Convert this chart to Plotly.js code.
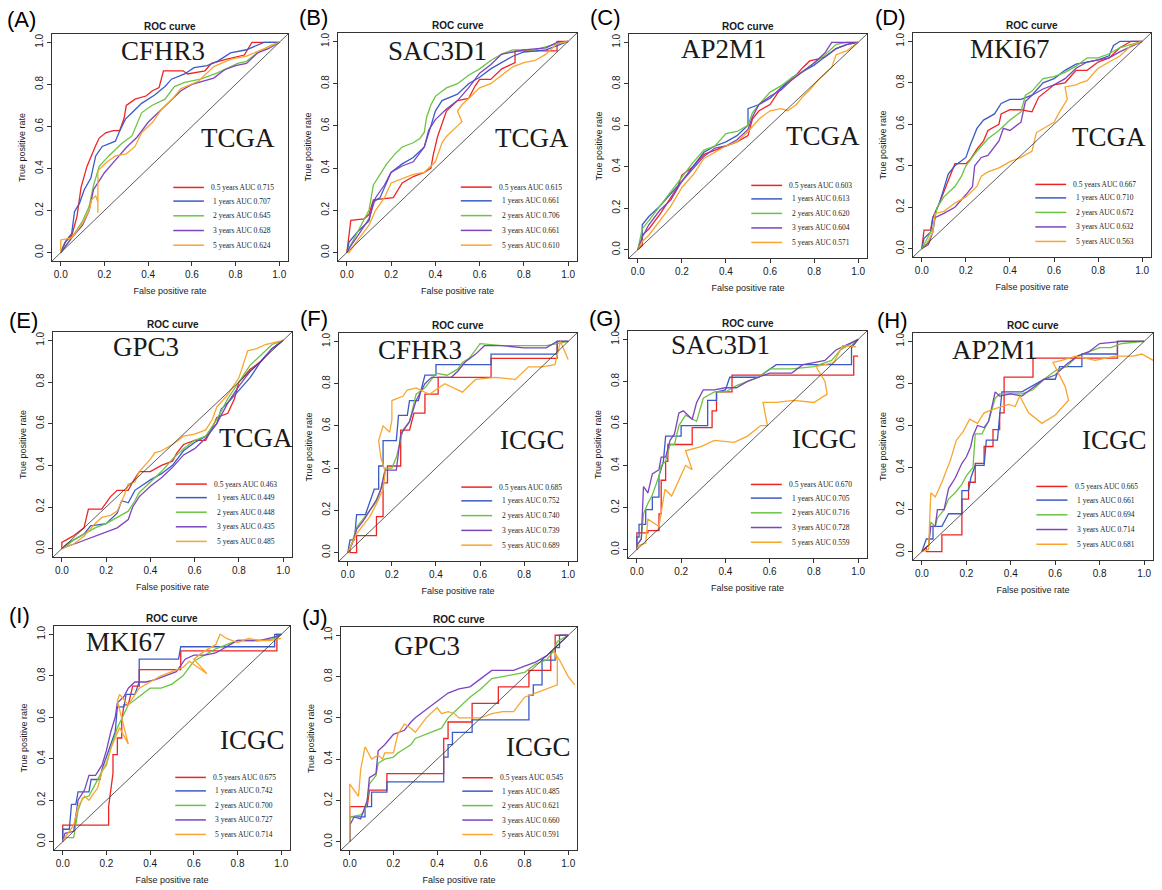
<!DOCTYPE html>
<html>
<head>
<meta charset="utf-8">
<script src="https://cdn.plot.ly/plotly-3.0.1.min.js"></script>
<style>html,body{margin:0;padding:0;background:#fff;}#chart{width:1162px;height:890px;}</style>
</head>
<body>
<div id="chart"></div>
<script>
// ---------- labels ----------
const panelTags = ["(A)","(B)","(C)","(D)","(E)","(F)","(G)","(H)","(I)","(J)"];
const genes = ["CFHR3","SAC3D1","AP2M1","MKI67","GPC3","CFHR3","SAC3D1","AP2M1","MKI67","GPC3"];
const cohorts = ["TCGA","TCGA","TCGA","TCGA","TCGA","ICGC","ICGC","ICGC","ICGC","ICGC"];
const years = ["0.5 years","1 years","2 years","3 years","5 years"];
const tickVals = [0,0.2,0.4,0.6,0.8,1.0];
const tickText = ["0.0","0.2","0.4","0.6","0.8","1.0"];

// ---------- AUC values ----------
const aucA = [0.715,0.707,0.645,0.628,0.624];
const aucB = [0.615,0.661,0.706,0.661,0.610];
const aucC = [0.603,0.613,0.620,0.604,0.571];
const aucD = [0.667,0.710,0.672,0.632,0.563];
const aucE = [0.463,0.449,0.448,0.435,0.485];
const aucF = [0.685,0.752,0.740,0.739,0.689];
const aucG = [0.670,0.705,0.716,0.728,0.559];
const aucH = [0.665,0.661,0.694,0.714,0.681];
const aucI = [0.675,0.742,0.700,0.727,0.714];
const aucJ = [0.545,0.485,0.621,0.660,0.591];

// ---------- ROC curves: [FPR, TPR] points ----------
// (A) CFHR3 TCGA
const A_05 = [[0,0],[0.02,0.05],[0.05,0.08],[0.074,0.17],[0.093,0.31],[0.12,0.41],[0.16,0.51],[0.176,0.545],[0.206,0.57],[0.24,0.58],[0.27,0.58],[0.29,0.64],[0.30,0.70],[0.34,0.73],[0.39,0.745],[0.42,0.77],[0.45,0.785],[0.47,0.865],[0.56,0.865],[0.58,0.85],[0.66,0.865],[0.69,0.90],[0.76,0.92],[0.84,0.94],[0.875,1.0],[1,1]];
const A_1 = [[0,0],[0.026,0.06],[0.05,0.09],[0.063,0.195],[0.086,0.235],[0.108,0.30],[0.138,0.355],[0.16,0.46],[0.19,0.505],[0.25,0.53],[0.27,0.58],[0.296,0.635],[0.326,0.665],[0.37,0.71],[0.43,0.75],[0.477,0.79],[0.507,0.825],[0.567,0.85],[0.61,0.88],[0.67,0.89],[0.717,0.91],[0.777,0.95],[0.85,0.965],[0.93,1.0],[1,1]];
const A_2 = [[0,0],[0.05,0.07],[0.10,0.15],[0.13,0.22],[0.15,0.32],[0.176,0.41],[0.22,0.46],[0.28,0.52],[0.326,0.555],[0.37,0.665],[0.417,0.70],[0.477,0.73],[0.52,0.79],[0.567,0.81],[0.64,0.825],[0.717,0.855],[0.81,0.90],[0.85,0.91],[0.90,0.95],[0.96,0.985],[1,1]];
const A_3 = [[0,0],[0.05,0.07],[0.10,0.13],[0.13,0.20],[0.15,0.30],[0.20,0.38],[0.25,0.44],[0.30,0.50],[0.35,0.55],[0.40,0.62],[0.45,0.67],[0.50,0.72],[0.55,0.77],[0.60,0.80],[0.70,0.83],[0.75,0.87],[0.80,0.89],[0.85,0.90],[0.90,0.95],[0.95,0.97],[1,1]];
const A_5 = [[0,0],[0,0.06],[0.05,0.07],[0.10,0.14],[0.13,0.20],[0.14,0.25],[0.16,0.27],[0.17,0.24],[0.17,0.19],[0.17,0.39],[0.21,0.43],[0.25,0.46],[0.30,0.47],[0.34,0.505],[0.37,0.57],[0.42,0.62],[0.46,0.68],[0.51,0.73],[0.55,0.78],[0.63,0.815],[0.70,0.885],[0.78,0.92],[0.85,0.935],[0.93,0.97],[1,1]];
// (B) SAC3D1 TCGA
const B_05 = [[0,0],[0.01,0.10],[0.018,0.153],[0.078,0.16],[0.10,0.18],[0.12,0.25],[0.175,0.255],[0.21,0.26],[0.25,0.33],[0.30,0.36],[0.35,0.38],[0.38,0.40],[0.39,0.46],[0.41,0.55],[0.45,0.67],[0.50,0.72],[0.55,0.73],[0.58,0.79],[0.60,0.82],[0.65,0.82],[0.70,0.87],[0.76,0.90],[0.76,0.955],[0.95,0.955],[0.95,1.0],[1,1]];
const B_1 = [[0,0],[0.01,0.05],[0.05,0.10],[0.10,0.15],[0.12,0.24],[0.15,0.26],[0.20,0.38],[0.25,0.42],[0.30,0.45],[0.35,0.50],[0.38,0.60],[0.40,0.67],[0.43,0.72],[0.50,0.75],[0.55,0.80],[0.60,0.83],[0.65,0.87],[0.70,0.90],[0.75,0.93],[0.80,0.95],[0.90,0.96],[0.95,0.98],[1,1]];
const B_2 = [[0,0],[0.01,0.02],[0.05,0.10],[0.10,0.20],[0.12,0.32],[0.15,0.37],[0.18,0.42],[0.22,0.47],[0.25,0.50],[0.30,0.52],[0.33,0.54],[0.35,0.57],[0.36,0.64],[0.38,0.70],[0.40,0.74],[0.45,0.78],[0.50,0.80],[0.55,0.84],[0.60,0.87],[0.65,0.91],[0.70,0.94],[0.75,0.96],[0.85,0.96],[0.95,0.99],[1,1]];
const B_3 = [[0,0],[0.01,0.02],[0.05,0.08],[0.10,0.16],[0.13,0.26],[0.17,0.32],[0.20,0.38],[0.25,0.41],[0.30,0.43],[0.35,0.50],[0.37,0.58],[0.40,0.63],[0.45,0.68],[0.50,0.72],[0.55,0.78],[0.60,0.85],[0.65,0.89],[0.70,0.94],[0.75,0.95],[0.80,0.96],[0.90,0.97],[0.95,0.995],[1,1]];
const B_5 = [[0,0],[0.01,0],[0.05,0.06],[0.10,0.13],[0.13,0.20],[0.17,0.26],[0.20,0.33],[0.25,0.35],[0.30,0.37],[0.35,0.38],[0.40,0.43],[0.43,0.52],[0.45,0.55],[0.50,0.60],[0.52,0.62],[0.50,0.67],[0.52,0.70],[0.55,0.73],[0.60,0.78],[0.65,0.80],[0.70,0.84],[0.75,0.88],[0.80,0.90],[0.85,0.91],[0.90,0.94],[0.95,0.99],[1,1]];
// (C) AP2M1 TCGA
const C_05 = [[0,0],[0.02,0.02],[0.02,0.07],[0.05,0.10],[0.10,0.17],[0.15,0.25],[0.18,0.30],[0.20,0.36],[0.25,0.40],[0.30,0.46],[0.35,0.48],[0.40,0.50],[0.45,0.52],[0.50,0.55],[0.52,0.63],[0.55,0.67],[0.60,0.70],[0.65,0.78],[0.70,0.82],[0.75,0.88],[0.78,0.91],[0.82,0.92],[0.85,0.93],[0.90,0.97],[0.95,0.99],[1,1]];
const C_1 = [[0,0],[0.02,0.05],[0.02,0.12],[0.05,0.16],[0.10,0.21],[0.15,0.27],[0.20,0.33],[0.25,0.40],[0.30,0.47],[0.35,0.50],[0.40,0.52],[0.45,0.55],[0.50,0.60],[0.50,0.68],[0.55,0.70],[0.60,0.73],[0.65,0.78],[0.70,0.83],[0.75,0.86],[0.80,0.89],[0.85,0.93],[0.90,0.97],[0.95,0.99],[1,1]];
const C_2 = [[0,0],[0.02,0.10],[0.05,0.14],[0.10,0.21],[0.15,0.28],[0.20,0.35],[0.25,0.42],[0.30,0.48],[0.35,0.50],[0.40,0.56],[0.45,0.57],[0.50,0.60],[0.52,0.66],[0.55,0.70],[0.60,0.76],[0.65,0.79],[0.70,0.83],[0.75,0.86],[0.80,0.90],[0.85,0.94],[0.90,0.99],[0.95,1.0],[1,1]];
const C_3 = [[0,0],[0.02,0.06],[0.05,0.12],[0.10,0.19],[0.15,0.24],[0.20,0.33],[0.25,0.39],[0.30,0.45],[0.35,0.49],[0.40,0.50],[0.45,0.53],[0.50,0.58],[0.52,0.64],[0.55,0.70],[0.60,0.74],[0.65,0.77],[0.70,0.82],[0.75,0.86],[0.80,0.90],[0.85,0.95],[0.88,1.0],[0.95,1.0],[1,1]];
const C_5 = [[0,0],[0.02,0.04],[0.05,0.07],[0.10,0.14],[0.15,0.21],[0.20,0.30],[0.25,0.36],[0.30,0.44],[0.35,0.47],[0.40,0.50],[0.45,0.52],[0.50,0.57],[0.55,0.63],[0.60,0.67],[0.65,0.68],[0.68,0.67],[0.72,0.70],[0.75,0.74],[0.78,0.77],[0.82,0.82],[0.85,0.85],[0.88,0.88],[0.90,0.94],[0.95,0.96],[1,1]];
// (D) MKI67 TCGA
const D_05 = [[0,0],[0.01,0.09],[0.04,0.09],[0.05,0.15],[0.08,0.22],[0.11,0.30],[0.13,0.35],[0.15,0.41],[0.20,0.41],[0.22,0.43],[0.25,0.48],[0.28,0.52],[0.30,0.57],[0.35,0.60],[0.36,0.65],[0.40,0.67],[0.45,0.67],[0.50,0.66],[0.53,0.73],[0.60,0.79],[0.65,0.80],[0.70,0.86],[0.75,0.86],[0.80,0.90],[0.85,0.92],[0.90,0.97],[0.95,1.0],[1,1]];
const D_1 = [[0,0],[0.01,0.05],[0.04,0.08],[0.05,0.15],[0.08,0.22],[0.10,0.29],[0.12,0.36],[0.15,0.40],[0.20,0.44],[0.22,0.50],[0.25,0.58],[0.28,0.62],[0.33,0.65],[0.36,0.70],[0.40,0.72],[0.45,0.72],[0.50,0.74],[0.55,0.80],[0.60,0.82],[0.65,0.86],[0.70,0.89],[0.75,0.90],[0.80,0.91],[0.85,0.93],[0.87,0.98],[0.90,1.0],[1,1]];
const D_2 = [[0,0],[0.02,0.04],[0.05,0.10],[0.07,0.20],[0.10,0.25],[0.15,0.30],[0.18,0.35],[0.20,0.40],[0.25,0.47],[0.30,0.53],[0.35,0.57],[0.40,0.62],[0.45,0.66],[0.47,0.74],[0.50,0.76],[0.55,0.82],[0.60,0.83],[0.65,0.85],[0.70,0.88],[0.75,0.92],[0.80,0.92],[0.85,0.94],[0.90,0.97],[1,1]];
const D_3 = [[0,0],[0.03,0.02],[0.05,0.08],[0.06,0.15],[0.10,0.17],[0.15,0.20],[0.20,0.26],[0.23,0.30],[0.24,0.40],[0.27,0.44],[0.30,0.45],[0.35,0.52],[0.37,0.58],[0.40,0.57],[0.45,0.61],[0.47,0.71],[0.50,0.74],[0.55,0.77],[0.60,0.79],[0.65,0.82],[0.70,0.87],[0.75,0.90],[0.80,0.91],[0.85,0.92],[0.90,0.95],[1,1]];
const D_5 = [[0,0],[0.02,0.02],[0.05,0.08],[0.06,0.17],[0.10,0.18],[0.15,0.22],[0.20,0.25],[0.25,0.30],[0.27,0.35],[0.30,0.37],[0.35,0.39],[0.40,0.42],[0.45,0.44],[0.50,0.47],[0.52,0.56],[0.55,0.58],[0.60,0.61],[0.62,0.65],[0.66,0.72],[0.65,0.78],[0.70,0.79],[0.72,0.80],[0.75,0.81],[0.80,0.87],[0.85,0.90],[0.90,0.93],[0.95,0.98],[1,1]];
// (E) GPC3 TCGA
const E_05 = [[0,0],[0,0.03],[0.05,0.06],[0.10,0.10],[0.12,0.19],[0.18,0.19],[0.20,0.22],[0.22,0.25],[0.25,0.28],[0.30,0.28],[0.32,0.32],[0.35,0.37],[0.40,0.37],[0.45,0.40],[0.50,0.42],[0.52,0.46],[0.55,0.50],[0.60,0.52],[0.65,0.52],[0.68,0.58],[0.70,0.63],[0.75,0.65],[0.78,0.72],[0.80,0.80],[0.85,0.86],[0.90,0.90],[0.95,0.96],[1,1]];
const E_1 = [[0,0],[0.02,0.02],[0.05,0.04],[0.10,0.07],[0.13,0.11],[0.20,0.12],[0.25,0.17],[0.27,0.23],[0.30,0.22],[0.33,0.28],[0.40,0.33],[0.45,0.36],[0.50,0.40],[0.55,0.47],[0.60,0.51],[0.65,0.54],[0.70,0.60],[0.72,0.67],[0.75,0.70],[0.80,0.76],[0.85,0.82],[0.90,0.90],[0.95,0.96],[1,1]];
const E_2 = [[0,0],[0.02,0.01],[0.05,0.04],[0.10,0.07],[0.15,0.10],[0.20,0.12],[0.25,0.15],[0.30,0.18],[0.33,0.23],[0.35,0.27],[0.40,0.32],[0.45,0.37],[0.50,0.43],[0.55,0.48],[0.60,0.52],[0.65,0.54],[0.70,0.62],[0.75,0.72],[0.80,0.80],[0.85,0.88],[0.90,0.93],[0.95,0.98],[1,1]];
const E_3 = [[0,0],[0.02,0.01],[0.05,0.02],[0.10,0.04],[0.15,0.06],[0.20,0.08],[0.25,0.10],[0.30,0.14],[0.32,0.20],[0.35,0.25],[0.40,0.30],[0.45,0.34],[0.50,0.39],[0.55,0.45],[0.60,0.48],[0.65,0.53],[0.70,0.60],[0.75,0.70],[0.80,0.78],[0.85,0.85],[0.90,0.90],[0.95,0.96],[1,1]];
const E_5 = [[0,0],[0.02,0.01],[0.05,0.02],[0.10,0.06],[0.15,0.12],[0.18,0.15],[0.22,0.16],[0.25,0.18],[0.28,0.25],[0.30,0.31],[0.33,0.32],[0.35,0.37],[0.40,0.43],[0.42,0.46],[0.45,0.47],[0.50,0.50],[0.55,0.54],[0.60,0.55],[0.65,0.57],[0.68,0.62],[0.70,0.68],[0.75,0.74],[0.80,0.82],[0.82,0.88],[0.84,0.95],[0.88,0.96],[0.92,0.98],[1,1]];
// (F) CFHR3 ICGC
const F_05 = [[0,0],[0.01,0.02],[0.01,0],[0.04,0],[0.04,0.08],[0.13,0.08],[0.13,0.17],[0.16,0.17],[0.16,0.33],[0.18,0.33],[0.18,0.41],[0.24,0.41],[0.24,0.58],[0.28,0.58],[0.30,0.66],[0.35,0.66],[0.35,0.75],[0.41,0.75],[0.41,0.83],[0.65,0.83],[0.65,0.92],[0.95,0.92],[0.95,1.0],[1,1]];
const F_1 = [[0,0],[0.01,0.06],[0.03,0.06],[0.04,0.18],[0.08,0.18],[0.10,0.24],[0.12,0.30],[0.14,0.30],[0.14,0.41],[0.16,0.41],[0.16,0.53],[0.22,0.53],[0.23,0.65],[0.27,0.65],[0.28,0.72],[0.32,0.72],[0.35,0.84],[0.40,0.84],[0.40,0.89],[0.65,0.89],[0.65,0.94],[0.95,0.94],[0.95,1.0],[1,1]];
const F_2 = [[0,0],[0.02,0.05],[0.04,0.12],[0.07,0.16],[0.10,0.20],[0.13,0.24],[0.15,0.30],[0.17,0.40],[0.20,0.40],[0.22,0.45],[0.25,0.58],[0.28,0.62],[0.31,0.75],[0.35,0.78],[0.38,0.82],[0.40,0.85],[0.45,0.84],[0.50,0.87],[0.52,0.90],[0.55,0.92],[0.58,0.96],[0.60,0.99],[0.70,0.98],[0.80,0.98],[0.90,0.98],[0.95,0.99],[1,1]];
const F_3 = [[0,0],[0.02,0.04],[0.04,0.11],[0.07,0.15],[0.10,0.20],[0.13,0.25],[0.15,0.30],[0.17,0.39],[0.22,0.39],[0.24,0.56],[0.28,0.62],[0.31,0.72],[0.35,0.80],[0.38,0.83],[0.42,0.83],[0.47,0.83],[0.50,0.86],[0.53,0.90],[0.58,0.94],[0.62,0.98],[0.70,0.98],[0.80,0.97],[0.90,0.97],[0.95,1.0],[1,1]];
const F_5 = [[0,0],[0.04,0.09],[0.10,0.17],[0.13,0.23],[0.16,0.30],[0.17,0.38],[0.15,0.45],[0.14,0.53],[0.16,0.60],[0.19,0.57],[0.20,0.63],[0.20,0.72],[0.25,0.74],[0.27,0.77],[0.31,0.78],[0.37,0.75],[0.44,0.80],[0.52,0.76],[0.58,0.82],[0.67,0.83],[0.76,0.82],[0.82,0.88],[0.88,0.88],[0.94,0.89],[0.965,1.0],[1.0,0.915]];
// (G) SAC3D1 ICGC
const G_05 = [[0,0],[0,0.08],[0.05,0.08],[0.05,0.09],[0.10,0.09],[0.10,0.17],[0.11,0.17],[0.11,0.33],[0.13,0.33],[0.13,0.42],[0.14,0.42],[0.14,0.50],[0.25,0.50],[0.25,0.58],[0.34,0.58],[0.34,0.66],[0.36,0.66],[0.36,0.75],[0.43,0.75],[0.43,0.83],[0.98,0.83],[0.98,0.92],[1,0.92]];
const G_1 = [[0,0],[0,0.06],[0.01,0.06],[0.01,0.12],[0.04,0.12],[0.04,0.19],[0.07,0.19],[0.07,0.25],[0.10,0.25],[0.10,0.35],[0.12,0.42],[0.13,0.54],[0.20,0.54],[0.20,0.59],[0.32,0.59],[0.32,0.71],[0.36,0.71],[0.36,0.75],[0.40,0.76],[0.42,0.82],[0.55,0.82],[0.63,0.88],[0.97,0.88],[0.97,0.96],[1,1]];
const G_2 = [[0,0],[0,0.02],[0.02,0.05],[0.03,0.17],[0.05,0.22],[0.07,0.26],[0.10,0.35],[0.11,0.40],[0.13,0.42],[0.15,0.50],[0.17,0.50],[0.19,0.59],[0.22,0.64],[0.27,0.61],[0.30,0.72],[0.35,0.75],[0.40,0.75],[0.45,0.78],[0.50,0.80],[0.55,0.82],[0.60,0.86],[0.70,0.86],[0.80,0.87],[0.88,0.90],[0.92,0.95],[1,1]];
const G_3 = [[0,0],[0,0.02],[0.02,0.05],[0.03,0.30],[0.05,0.27],[0.07,0.36],[0.10,0.38],[0.11,0.44],[0.13,0.44],[0.15,0.52],[0.17,0.55],[0.19,0.65],[0.21,0.66],[0.25,0.62],[0.27,0.70],[0.30,0.76],[0.35,0.76],[0.40,0.77],[0.45,0.77],[0.50,0.80],[0.55,0.82],[0.60,0.84],[0.70,0.84],[0.75,0.88],[0.80,0.89],[0.85,0.90],[0.90,0.95],[1,1]];
const G_5 = [[0,0],[0.01,0.02],[0.04,0.03],[0.05,0.145],[0.10,0.11],[0.127,0.287],[0.157,0.255],[0.19,0.33],[0.22,0.40],[0.25,0.38],[0.22,0.47],[0.29,0.49],[0.35,0.52],[0.44,0.51],[0.50,0.54],[0.56,0.59],[0.59,0.59],[0.57,0.70],[0.63,0.70],[0.71,0.71],[0.80,0.70],[0.86,0.74],[0.85,0.80],[0.81,0.87],[0.89,0.89],[0.93,0.97],[0.99,0.965]];
// (H) AP2M1 ICGC
const H_05 = [[0,0],[0.02,0.02],[0.02,0],[0.09,0],[0.09,0.08],[0.18,0.08],[0.18,0.25],[0.21,0.25],[0.21,0.33],[0.24,0.33],[0.24,0.42],[0.28,0.42],[0.28,0.50],[0.32,0.50],[0.32,0.58],[0.35,0.58],[0.35,0.66],[0.37,0.66],[0.37,0.83],[0.50,0.83],[0.50,0.92],[0.88,0.92],[0.88,1.0],[1,1]];
const H_1 = [[0,0],[0.02,0.06],[0.05,0.06],[0.05,0.12],[0.09,0.12],[0.12,0.18],[0.18,0.18],[0.18,0.29],[0.21,0.29],[0.22,0.35],[0.24,0.41],[0.28,0.41],[0.29,0.53],[0.34,0.53],[0.35,0.65],[0.36,0.76],[0.45,0.76],[0.50,0.79],[0.55,0.82],[0.60,0.82],[0.62,0.88],[0.72,0.88],[0.72,0.94],[0.88,0.94],[0.88,1.0],[1,1]];
const H_2 = [[0,0],[0.03,0.03],[0.04,0.14],[0.06,0.12],[0.07,0.16],[0.10,0.20],[0.12,0.25],[0.15,0.28],[0.18,0.32],[0.20,0.36],[0.23,0.40],[0.24,0.56],[0.27,0.56],[0.30,0.62],[0.33,0.73],[0.35,0.75],[0.40,0.75],[0.45,0.75],[0.50,0.77],[0.55,0.82],[0.60,0.86],[0.65,0.88],[0.70,0.93],[0.75,0.95],[0.80,0.97],[0.85,0.97],[0.90,0.99],[1,1]];
const H_3 = [[0,0],[0.03,0.03],[0.04,0.12],[0.06,0.12],[0.07,0.20],[0.10,0.20],[0.12,0.30],[0.15,0.35],[0.18,0.42],[0.20,0.45],[0.22,0.50],[0.23,0.55],[0.25,0.60],[0.28,0.59],[0.30,0.62],[0.33,0.76],[0.35,0.74],[0.40,0.75],[0.45,0.74],[0.50,0.78],[0.55,0.82],[0.60,0.84],[0.65,0.89],[0.70,0.93],[0.75,0.95],[0.80,0.99],[0.90,1.0],[1,1]];
const H_5 = [[0,0],[0.03,0.01],[0.04,0.28],[0.06,0.26],[0.09,0.33],[0.13,0.44],[0.155,0.53],[0.185,0.57],[0.215,0.63],[0.25,0.61],[0.28,0.66],[0.33,0.68],[0.39,0.70],[0.42,0.69],[0.44,0.74],[0.48,0.66],[0.54,0.61],[0.60,0.65],[0.66,0.72],[0.645,0.785],[0.59,0.90],[0.63,0.91],[0.69,0.93],[0.78,0.91],[0.87,0.93],[0.95,0.93],[0.99,0.94],[1.04,0.91]];
// (I) MKI67 ICGC
const I_05 = [[0,0],[0,0.08],[0.21,0.08],[0.21,0.17],[0.22,0.25],[0.23,0.33],[0.23,0.42],[0.25,0.42],[0.25,0.50],[0.27,0.50],[0.27,0.58],[0.28,0.66],[0.30,0.66],[0.32,0.75],[0.35,0.75],[0.35,0.83],[0.54,0.83],[0.54,0.92],[0.98,0.92],[0.98,1.0],[1,1]];
const I_1 = [[0,0],[0,0.06],[0.03,0.06],[0.04,0.18],[0.06,0.18],[0.07,0.24],[0.12,0.24],[0.13,0.30],[0.17,0.30],[0.18,0.35],[0.20,0.41],[0.22,0.47],[0.24,0.53],[0.25,0.65],[0.28,0.65],[0.29,0.71],[0.33,0.71],[0.35,0.77],[0.35,0.88],[0.53,0.88],[0.54,0.94],[0.97,0.94],[0.97,1.0],[1,1]];
const I_2 = [[0,0],[0.01,0.02],[0.05,0.02],[0.06,0.08],[0.07,0.15],[0.09,0.21],[0.12,0.22],[0.15,0.28],[0.18,0.34],[0.20,0.37],[0.22,0.45],[0.25,0.55],[0.28,0.62],[0.30,0.66],[0.35,0.70],[0.40,0.74],[0.45,0.74],[0.50,0.76],[0.55,0.80],[0.60,0.87],[0.65,0.90],[0.70,0.93],[0.80,0.97],[0.90,0.97],[0.98,0.98],[1,1]];
const I_3 = [[0,0],[0.01,0.04],[0.05,0.05],[0.06,0.13],[0.07,0.20],[0.10,0.25],[0.12,0.32],[0.15,0.32],[0.18,0.37],[0.20,0.44],[0.22,0.53],[0.24,0.60],[0.25,0.67],[0.28,0.70],[0.30,0.74],[0.33,0.77],[0.38,0.77],[0.42,0.78],[0.47,0.80],[0.52,0.82],[0.56,0.88],[0.60,0.90],[0.65,0.90],[0.70,0.91],[0.80,0.97],[0.90,0.97],[0.98,0.99],[1,1]];
const I_5 = [[0,0],[0.01,0.02],[0.05,0.08],[0.07,0.17],[0.10,0.22],[0.12,0.20],[0.16,0.26],[0.18,0.34],[0.20,0.38],[0.22,0.45],[0.24,0.50],[0.26,0.55],[0.30,0.47],[0.27,0.60],[0.25,0.68],[0.26,0.71],[0.30,0.66],[0.35,0.74],[0.40,0.77],[0.45,0.80],[0.50,0.82],[0.55,0.84],[0.58,0.87],[0.66,0.81],[0.60,0.88],[0.65,0.92],[0.70,0.95],[0.72,1.0],[0.75,0.98],[0.80,0.96],[0.85,0.98],[0.90,0.97],[0.95,0.97],[1,0.98]];
// (J) GPC3 ICGC
const J_05 = [[0,0],[0,0.17],[0.08,0.17],[0.09,0.25],[0.17,0.25],[0.17,0.33],[0.43,0.33],[0.43,0.50],[0.45,0.50],[0.45,0.58],[0.56,0.58],[0.56,0.67],[0.68,0.67],[0.68,0.75],[0.82,0.75],[0.82,0.83],[0.92,0.83],[0.92,0.92],[0.94,0.92],[0.94,1.0],[1,1]];
const J_1 = [[0,0],[0,0.12],[0.07,0.12],[0.07,0.17],[0.10,0.17],[0.10,0.24],[0.17,0.24],[0.17,0.29],[0.43,0.29],[0.43,0.41],[0.45,0.41],[0.45,0.47],[0.47,0.47],[0.47,0.53],[0.56,0.53],[0.56,0.59],[0.82,0.59],[0.82,0.71],[0.84,0.71],[0.84,0.76],[0.88,0.76],[0.88,0.88],[0.94,0.88],[0.94,0.94],[0.96,0.94],[0.96,1.0],[1,1]];
const J_2 = [[0,0],[0,0.12],[0.05,0.13],[0.07,0.15],[0.08,0.20],[0.09,0.28],[0.12,0.32],[0.13,0.38],[0.16,0.40],[0.20,0.41],[0.22,0.43],[0.25,0.45],[0.28,0.47],[0.30,0.50],[0.35,0.52],[0.40,0.54],[0.42,0.55],[0.45,0.60],[0.50,0.65],[0.55,0.70],[0.60,0.74],[0.65,0.79],[0.70,0.80],[0.75,0.81],[0.80,0.82],[0.85,0.86],[0.90,0.88],[0.93,0.92],[0.95,0.97],[1,1]];
const J_3 = [[0,0],[0,0.08],[0.02,0.12],[0.05,0.11],[0.08,0.20],[0.09,0.31],[0.12,0.33],[0.13,0.44],[0.16,0.47],[0.20,0.52],[0.25,0.54],[0.28,0.58],[0.30,0.60],[0.35,0.64],[0.40,0.68],[0.45,0.72],[0.50,0.74],[0.55,0.75],[0.60,0.79],[0.65,0.83],[0.70,0.83],[0.75,0.83],[0.80,0.85],[0.85,0.87],[0.90,0.90],[0.95,0.95],[1,1]];
const J_5 = [[0,0],[0,0.28],[0.02,0.25],[0.04,0.22],[0.05,0.35],[0.07,0.46],[0.10,0.40],[0.13,0.42],[0.15,0.40],[0.16,0.43],[0.20,0.43],[0.22,0.52],[0.25,0.57],[0.28,0.55],[0.30,0.53],[0.35,0.60],[0.40,0.65],[0.42,0.62],[0.45,0.63],[0.48,0.62],[0.50,0.60],[0.55,0.60],[0.60,0.60],[0.65,0.62],[0.70,0.63],[0.75,0.63],[0.80,0.70],[0.85,0.72],[0.90,0.74],[0.95,0.76],[0.95,0.88],[0.93,0.93],[0.96,0.88],[1.0,0.80],[1.03,0.76]];

const curves = [
  [A_05,A_1,A_2,A_3,A_5],[B_05,B_1,B_2,B_3,B_5],[C_05,C_1,C_2,C_3,C_5],[D_05,D_1,D_2,D_3,D_5],[E_05,E_1,E_2,E_3,E_5],
  [F_05,F_1,F_2,F_3,F_5],[G_05,G_1,G_2,G_3,G_5],[H_05,H_1,H_2,H_3,H_5],[I_05,I_1,I_2,I_3,I_5],[J_05,J_1,J_2,J_3,J_5]
];
const aucs = [aucA,aucB,aucC,aucD,aucE,aucF,aucG,aucH,aucI,aucJ];

// ---------- styling / layout (not data) ----------
const colors = ['#EE2424','#3A5BC7','#6CC443','#7C44BE','#F8A62E'];
const W = 1162, H = 890;
// plot boxes in px: [left, right, top, bottom]
const boxes = [
  [52,288,34,261],[338,577,33,261],[629,867,34,258],[913,1151,33,257],
  [53,292,332,557],[339,577,333,561],[628,867,331,558],[913,1153,333,560],
  [54,290,626,850],[341,577,627,850]
];
const tagPos = [[5,19],[297,18],[588,18],[873,18],[7,320],[298,318],[587,318],[875,320],[7,615],[300,617]];
const genePos = [[0.47,0.96],[0.41,0.955],[0.39,0.968],[0.40,0.963],[0.38,0.968],[0.327,0.96],[0.38,0.973],[0.33,0.96],[0.29,0.964],[0.353,0.95]];
const cohortPos = [[0.81,0.545],[0.835,0.543],[0.84,0.549],[0.85,0.538],[0.878,0.533],[0.839,0.535],[0.85,0.524],[0.867,0.532],[0.868,0.488],[0.865,0.46]];
const legY = [0.31,0.245,0.175,0.105,0.035];

const SANS = 'Liberation Sans, Arial, sans-serif';
const SERIF = 'Liberation Serif, Times New Roman, serif';
const INK = '#1a1a1a';

const traces = [];
const layout = {
  width: W, height: H,
  margin: {l:0, r:0, t:0, b:0},
  paper_bgcolor: '#ffffff', plot_bgcolor: '#ffffff',
  showlegend: false,
  annotations: [], shapes: []
};

for (let p = 0; p < 10; p++) {
  const s = p === 0 ? '' : String(p + 1);
  const [l, r, t, b] = boxes[p];
  const axCommon = {
    range: [-0.04, 1.04], showgrid: false, zeroline: false,
    showline: true, mirror: true, linecolor: '#333', linewidth: 1,
    ticks: 'outside', ticklen: 4, tickcolor: '#333', tickwidth: 1,
    tickvals: tickVals, ticktext: tickText,
    tickfont: {family: SANS, size: 10, color: INK},
    fixedrange: true
  };
  layout['xaxis' + s] = Object.assign({}, axCommon, {
    domain: [l / W, r / W], anchor: 'y' + s,
    title: {text: 'False positive rate', font: {family: SANS, size: 9, color: INK}, standoff: 8}
  });
  layout['yaxis' + s] = Object.assign({}, axCommon, {
    domain: [(H - b) / H, (H - t) / H], anchor: 'x' + s, tickangle: -90,
    title: {text: 'True positive rate', font: {family: SANS, size: 9, color: INK}, standoff: 6}
  });

  const xr = 'x' + s, yr = 'y' + s;
  // ROC curves
  curves[p].forEach((pts, k) => {
    traces.push({
      x: pts.map(q => q[0]), y: pts.map(q => q[1]),
      xaxis: xr, yaxis: yr, type: 'scatter', mode: 'lines',
      name: years[k] + ' AUC ' + aucs[p][k].toFixed(3),
      line: {color: colors[k], width: 1.3},
      hoverinfo: 'skip', cliponaxis: true
    });
  });
  // diagonal reference (abline)
  layout.shapes.push({type: 'line', xref: xr + ' domain', yref: yr + ' domain', x0: 0, y0: 0, x1: 1, y1: 1,
    line: {color: '#333', width: 0.8}});
  // legend
  for (let k = 0; k < 5; k++) {
    layout.shapes.push({type: 'line', xref: xr, yref: yr, x0: 0.515, x1: 0.655, y0: legY[k], y1: legY[k],
      line: {color: colors[k], width: 1.5}});
    layout.annotations.push({xref: xr, yref: yr, x: 0.83, y: legY[k], xanchor: 'center', yanchor: 'middle',
      text: years[k] + ' AUC ' + aucs[p][k].toFixed(3), showarrow: false,
      font: {family: SERIF, size: 7.5, color: INK}});
  }
  // gene name + cohort
  layout.annotations.push({xref: xr, yref: yr, x: genePos[p][0], y: genePos[p][1], xanchor: 'center', yanchor: 'middle',
    text: genes[p], showarrow: false, font: {family: SERIF, size: 27, color: INK}});
  layout.annotations.push({xref: xr, yref: yr, x: cohortPos[p][0], y: cohortPos[p][1], xanchor: 'center', yanchor: 'middle',
    text: cohorts[p], showarrow: false, font: {family: SERIF, size: 27, color: INK}});
  // panel title
  layout.annotations.push({xref: xr + ' domain', yref: yr + ' domain', x: 0.5, y: 1, xanchor: 'center', yanchor: 'bottom', yshift: 0,
    text: '<b>ROC curve</b>', showarrow: false, font: {family: SANS, size: 10, color: INK}});
  // panel tag
  layout.annotations.push({xref: 'paper', yref: 'paper', x: tagPos[p][0] / W, y: (H - tagPos[p][1]) / H,
    xanchor: 'left', yanchor: 'middle', text: panelTags[p], showarrow: false,
    font: {family: SANS, size: 22, color: '#000'}});
}

Plotly.newPlot('chart', traces, layout, {displayModeBar: false, staticPlot: true});
</script>
</body>
</html>
